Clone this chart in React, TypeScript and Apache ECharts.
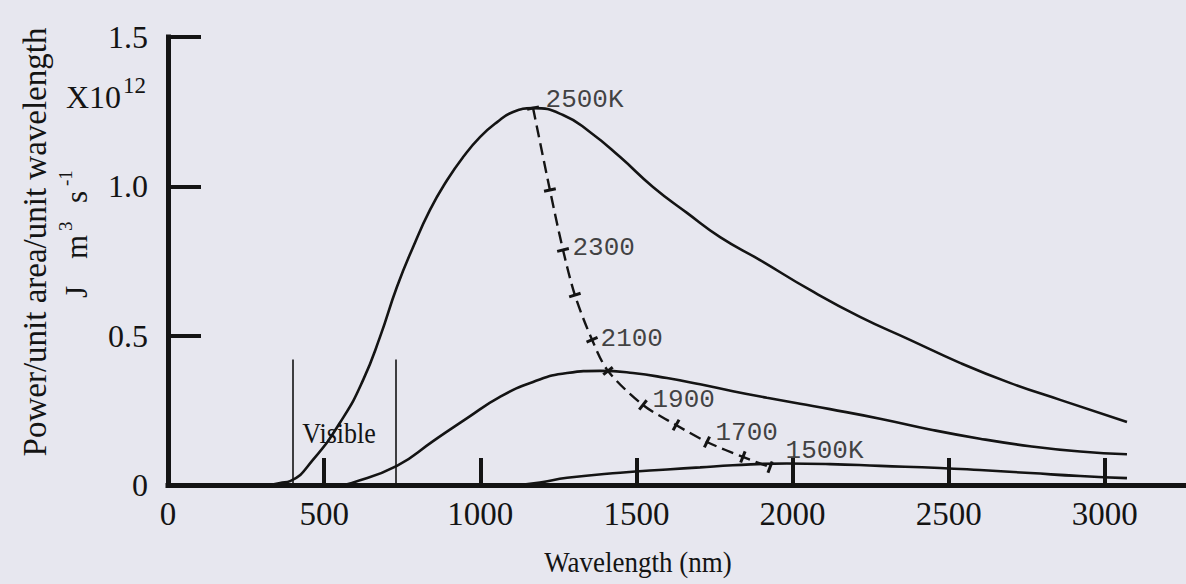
import { useEffect, useRef } from "react";
import * as echarts from "echarts";

// ---- axis ticks ----
const xTickValues = [500, 1000, 1500, 2000, 2500, 3000];
const xLabelValues = [0, 500, 1000, 1500, 2000, 2500, 3000];
const yTickValues = [0.5, 1.0, 1.5];

// ---- 2500 K curve (wavelength nm, power x10^12) ----
const wl2500 = [327, 359, 391, 464, 560, 625, 679, 733, 785, 839, 894, 945, 999, 1054, 1105, 1169, 1265, 1351, 1448, 1553, 1662, 1768, 1896, 2056, 2216, 2376, 2536, 2696, 2857, 3071];
const p2500 = [0, 0.007, 0.013, 0.084, 0.224, 0.352, 0.496, 0.663, 0.797, 0.921, 1.021, 1.098, 1.165, 1.215, 1.249, 1.262, 1.239, 1.182, 1.098, 0.998, 0.911, 0.830, 0.753, 0.653, 0.563, 0.486, 0.409, 0.342, 0.285, 0.211];

// ---- 2000 K curve ----
const wl2000 = [551, 589, 733, 849, 958, 1063, 1169, 1278, 1383, 1489, 1598, 1704, 1809, 1918, 2024, 2120, 2280, 2440, 2600, 2760, 2921, 3071];
const p2000 = [0, 0.007, 0.064, 0.147, 0.224, 0.295, 0.345, 0.375, 0.382, 0.375, 0.358, 0.337, 0.314, 0.292, 0.272, 0.254, 0.222, 0.186, 0.155, 0.130, 0.112, 0.103];

// ---- 1500 K curve ----
const wl1500 = [1127, 1191, 1278, 1448, 1598, 1704, 1809, 1982, 2120, 2280, 2472, 2600, 2761, 2921, 3071];
const p1500 = [0, 0.008, 0.024, 0.041, 0.052, 0.059, 0.066, 0.072, 0.070, 0.064, 0.057, 0.050, 0.040, 0.030, 0.023];

// ---- locus of the peaks (dashed), one mark per 100 K ----
const wienTemps = [2500, 2400, 2300, 2200, 2100, 2000, 1900, 1800, 1700, 1600, 1500];
const wienWl = [1169, 1223, 1265, 1303, 1358, 1409, 1521, 1627, 1726, 1841, 1928];
const wienP = [1.262, 0.988, 0.787, 0.636, 0.486, 0.382, 0.268, 0.201, 0.144, 0.094, 0.060];
const wienLabels = ["2500K", "", "2300", "", "2100", "", "1900", "", "1700", "", "1500K"];

// ---- visible band ----
const visibleEdges = [400, 730];
const visibleTop = 0.42;

const INK = "#141414";
const SERIF = '"Liberation Serif", "Times New Roman", serif';
const MONO = '"Liberation Mono", "DejaVu Sans Mono", monospace';

const labelOffsets: Record<number, number[]> = {
  0: [12, -8],
  2: [9, -2],
  4: [8, -1],
  6: [9, -5],
  8: [8, -9],
  10: [15, -16],
};

const pairs = (xs: number[], ys: number[]) => xs.map((x, i) => [x, ys[i]]);

const serifText = (text: string, size: number, align = "left") => ({
  text,
  fontFamily: SERIF,
  fontSize: size,
  fill: INK,
  align,
  verticalAlign: "middle",
});

export default function App() {
  const ref = useRef<HTMLDivElement>(null);

  useEffect(() => {
    if (!ref.current) return;
    document.body.style.margin = "0";
    const chart = echarts.init(ref.current, undefined, { renderer: "svg" });

    const n = wienWl.length;
    const perp = (i: number) => {
      const a = Math.max(0, i - 1);
      const b = Math.min(n - 1, i + 1);
      const dx = (wienWl[b] - wienWl[a]) * 0.3123;
      const dy = (wienP[b] - wienP[a]) * 298.7;
      return (Math.atan2(dy, dx) * 180) / Math.PI + 90;
    };

    const curveStyle = { color: INK, width: 2.6 };

    const option: any = {
      animation: false,
      backgroundColor: "#e7e7ef",
      grid: { left: 168, right: 0, top: 37, bottom: 99 },
      xAxis: {
        type: "value",
        min: 0,
        max: 3260,
        interval: 500,
        axisLine: { show: true, onZero: false, lineStyle: { color: INK, width: 5, cap: "square" } },
        axisTick: {
          show: true,
          inside: true,
          length: 27,
          customValues: xTickValues,
          lineStyle: { color: INK, width: 4 },
        },
        axisLabel: {
          customValues: xLabelValues,
          margin: 12,
          color: INK,
          fontFamily: SERIF,
          fontSize: 33,
          formatter: (v: number) => String(v),
        },
        splitLine: { show: false },
      },
      yAxis: {
        type: "value",
        min: 0,
        max: 1.5,
        interval: 0.5,
        axisLine: { show: true, onZero: false, lineStyle: { color: INK, width: 5, cap: "square" } },
        axisTick: {
          show: true,
          inside: true,
          length: 33,
          customValues: yTickValues,
          lineStyle: { color: INK, width: 4 },
        },
        axisLabel: {
          margin: 20,
          color: INK,
          fontFamily: SERIF,
          fontSize: 32,
          formatter: (v: number) => (v === 0 ? "0" : v.toFixed(1)),
        },
        splitLine: { show: false },
      },
      series: [
        {
          name: "2500K",
          type: "line",
          data: pairs(wl2500, p2500),
          smooth: 0.5,
          showSymbol: false,
          lineStyle: curveStyle,
          markLine: {
            silent: true,
            symbol: "none",
            label: { show: false },
            lineStyle: { type: "solid", color: INK, width: 1.6 },
            data: visibleEdges.map((x) => [{ coord: [x, 0] }, { coord: [x, visibleTop] }]),
          },
        },
        {
          name: "2000K",
          type: "line",
          data: pairs(wl2000, p2000),
          smooth: 0.5,
          showSymbol: false,
          lineStyle: curveStyle,
        },
        {
          name: "1500K",
          type: "line",
          data: pairs(wl1500, p1500),
          smooth: 0.5,
          showSymbol: false,
          lineStyle: curveStyle,
        },
        {
          name: "peaks",
          type: "line",
          data: pairs(wienWl, wienP),
          smooth: 0.3,
          showSymbol: true,
          symbol: "path://M0,0L10,0L10,1L0,1Z",
          symbolSize: [12, 3],
          symbolRotate: (_v: any, p: any) => perp(p.dataIndex),
          itemStyle: { color: INK },
          lineStyle: { color: INK, width: 2.4, type: [12, 6] },
          z: 3,
        },
        {
          name: "peakLabels",
          type: "scatter",
          symbolSize: 1,
          itemStyle: { color: "rgba(0,0,0,0)" },
          silent: true,
          data: wienTemps
            .map((t, i) =>
              wienLabels[i]
                ? {
                    name: String(t),
                    value: [wienWl[i], wienP[i]],
                    label: {
                      show: true,
                      position: "right",
                      distance: 0,
                      formatter: wienLabels[i],
                      offset: labelOffsets[i],
                      color: INK,
                      fontFamily: MONO,
                      fontSize: 26,
                    },
                  }
                : null
            )
            .filter(Boolean),
        },
      ],
      graphic: [
        {
          type: "text",
          x: 35,
          y: 242,
          rotation: Math.PI / 2,
          style: serifText("Power/unit area/unit wavelength", 33, "center"),
        },
        {
          type: "group",
          x: 87,
          y: 298,
          rotation: Math.PI / 2,
          children: [
            { type: "text", x: 0, y: -10.5, style: serifText("J", 31) },
            { type: "text", x: 39, y: -10.5, style: serifText("m", 31) },
            { type: "text", x: 67, y: -21.4, style: serifText("3", 19) },
            { type: "text", x: 95, y: -10.5, style: serifText("s", 31) },
            { type: "text", x: 112, y: -21.4, style: serifText("-1", 19) },
          ],
        },
        { type: "text", x: 66, y: 97, style: serifText("X10", 32) },
        { type: "text", x: 123, y: 85, style: serifText("12", 23) },
        { type: "text", x: 638, y: 561, scaleY: 1.12, style: serifText("Wavelength (nm)", 27, "center") },
        { type: "text", x: 339, y: 433, scaleY: 1.12, style: serifText("Visible", 26, "center") },
      ],
    };

    chart.setOption(option);
    return () => chart.dispose();
  }, []);

  return (
    <div
      ref={ref}
      style={{ position: "absolute", left: 0, top: 0, width: 1186, height: 584 }}
    />
  );
}
